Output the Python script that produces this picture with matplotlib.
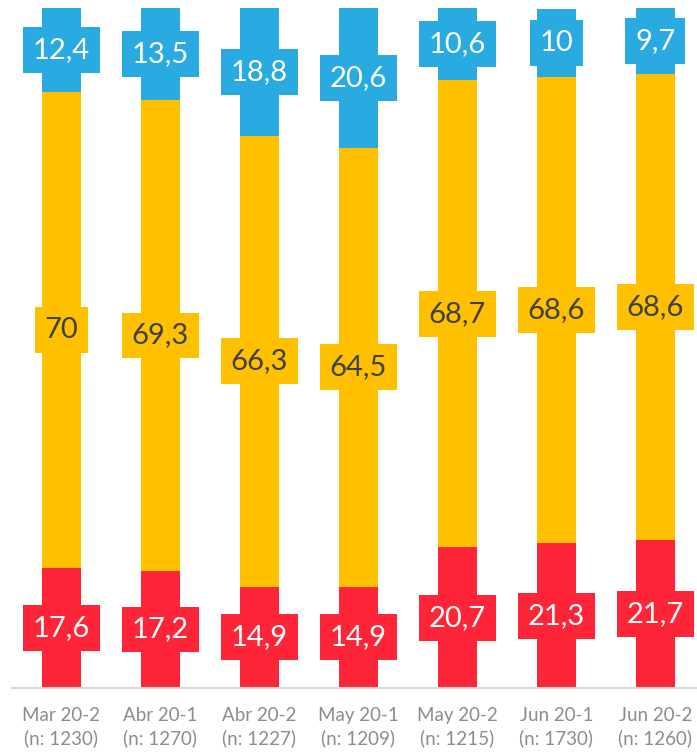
import matplotlib
matplotlib.use('Agg')
import matplotlib.pyplot as plt
import numpy as np

categories = ["Mar 20-2\n(n: 1230)", "Abr 20-1\n(n: 1270)", "Abr 20-2\n(n: 1227)",
              "May 20-1\n(n: 1209)", "May 20-2\n(n: 1215)", "Jun 20-1\n(n: 1730)",
              "Jun 20-2\n(n: 1260)"]
red_vals = [17.6, 17.2, 14.9, 14.9, 20.7, 21.3, 21.7]
yellow_vals = [70, 69.3, 66.3, 64.5, 68.7, 68.6, 68.6]
blue_vals = [12.4, 13.5, 18.8, 20.6, 10.6, 10, 9.7]

RED = '#FF2538'
YELLOW = '#FFC000'
BLUE = '#29AAE1'

plt.rcParams['font.family'] = ['Lato', 'DejaVu Sans']

fig = plt.figure(figsize=(6.97, 7.54), dpi=100)
ax = fig.add_axes([0.0172, 0.0875, 0.9828, 0.9019])

x = np.arange(len(categories))
red = np.array(red_vals)
yel = np.array(yellow_vals)
blu = np.array(blue_vals)

w = 0.4
ax.bar(x, red, w, color=RED)
ax.bar(x, yel, w, bottom=red, color=YELLOW)
ax.bar(x, blu, w, bottom=red + yel, color=BLUE)

def fmt(v):
    return ('%g' % v).replace('.', ',')

def label(xs, bottoms, vals, bg, fg):
    for xi, b, v in zip(xs, bottoms, vals):
        ax.text(xi, b + v / 2, fmt(v), ha='center', va='center', fontsize=21,
                color=fg, bbox=dict(boxstyle='square,pad=0.34', fc=bg, ec='none'))

label(x, np.zeros(len(x)), red, RED, 'white')
label(x, red, yel, YELLOW, '#404040')
label(x, red + yel, blu, BLUE, 'white')

ax.set_xlim(-0.5, 6.42)
ax.set_ylim(0, 100)
ax.set_xticks(x)
ax.set_xticklabels(categories, fontsize=13.5, color='#8C8C8C', linespacing=1.3)
ax.tick_params(axis='x', length=0, pad=14)
ax.set_yticks([])
for s in ['top', 'right', 'left']:
    ax.spines[s].set_visible(False)
ax.spines['bottom'].set_color('#D9D9D9')
ax.spines['bottom'].set_linewidth(1.5)

fig.savefig('out.png', dpi=100)
